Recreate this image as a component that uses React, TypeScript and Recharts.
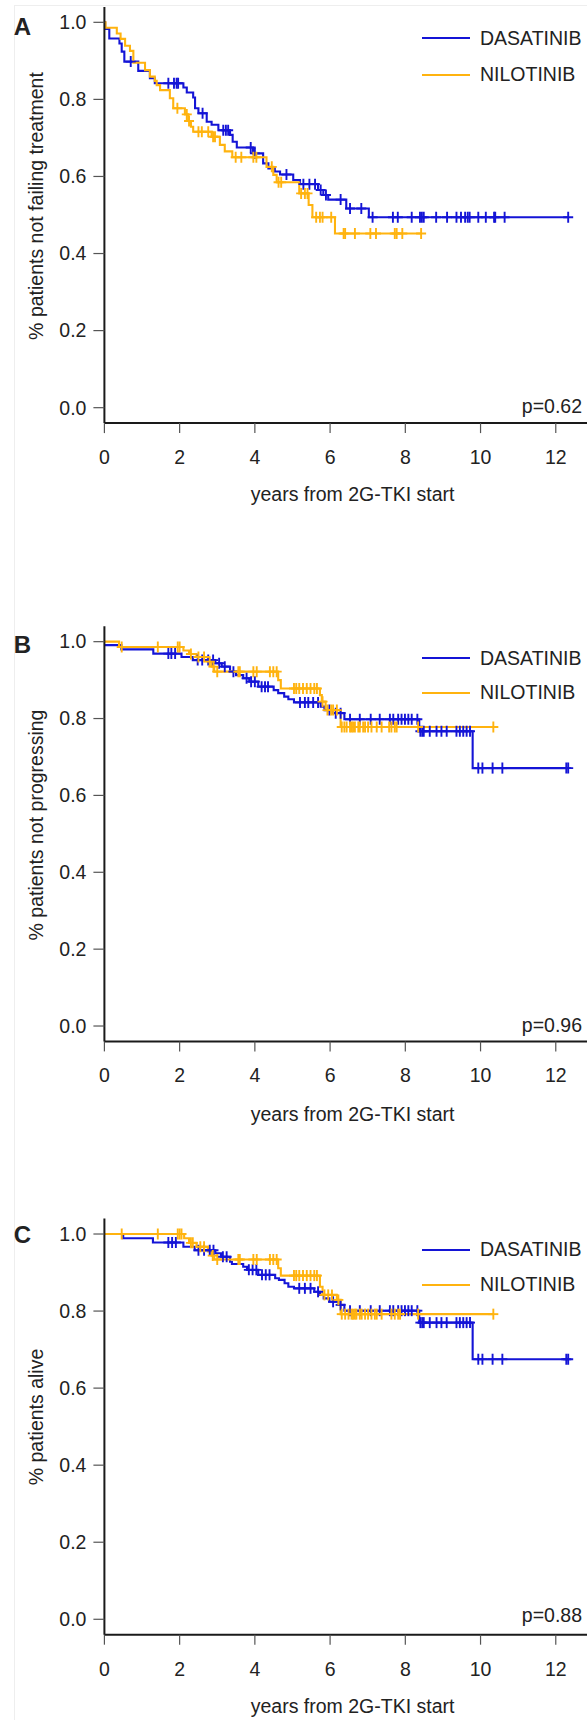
import React from "react";
import { ComposedChart, Line, Scatter, XAxis, YAxis } from "recharts";

const yearTicks = [0, 2, 4, 6, 8, 10, 12];
const fractionTicks = [0, 0.2, 0.4, 0.6, 0.8, 1.0];
const armNames = ["DASATINIB", "NILOTINIB"];
const armColors = ["#1414d6", "#ffb30f"];
const panelLetters = ["A", "B", "C"];
const yTitles = ["% patients not failing treatment", "% patients not progressing", "% patients alive"];
const xTitle = "years from 2G-TKI start";
const pValues = ["p=0.62", "p=0.96", "p=0.88"];

// A: treatment failure  [years, fraction]
const dasFailSteps = [
  [0, 1.0], [0.02, 0.983], [0.13, 0.958], [0.4, 0.945], [0.46, 0.924], [0.53, 0.898], [0.9, 0.874],
  [1.21, 0.855], [1.34, 0.842], [2.1, 0.831], [2.19, 0.818], [2.36, 0.805], [2.41, 0.777], [2.5, 0.764],
  [2.72, 0.742], [2.85, 0.734], [3.03, 0.72], [3.34, 0.708], [3.41, 0.69], [3.52, 0.675], [3.95, 0.66],
  [4.22, 0.634], [4.36, 0.621], [4.53, 0.613], [4.67, 0.605], [5.02, 0.591], [5.2, 0.58], [5.68, 0.565],
  [5.82, 0.552], [5.95, 0.54], [6.43, 0.517], [7.03, 0.494], [12.33, 0.494],
];
const dasFailCensored = [
  0.7, 1.7, 1.85, 1.92, 1.96, 2.61, 3.16, 3.23, 3.29, 3.89, 4.0, 4.84, 5.29, 5.45, 5.6, 5.75, 5.89, 6.28,
  6.53, 6.83, 7.13, 7.67, 7.8, 8.17, 8.39, 8.44, 8.49, 8.82, 9.11, 9.36, 9.48, 9.59, 9.66, 9.71, 9.94,
  10.14, 10.36, 10.39, 10.64, 12.33,
];
const nilFailSteps = [
  [0, 1.0], [0.03, 0.986], [0.33, 0.971], [0.43, 0.957], [0.55, 0.939], [0.68, 0.926], [0.77, 0.895],
  [1.08, 0.876], [1.21, 0.859], [1.34, 0.848], [1.39, 0.837], [1.48, 0.824], [1.74, 0.803], [1.83, 0.777],
  [2.14, 0.761], [2.23, 0.744], [2.3, 0.729], [2.36, 0.716], [2.85, 0.703], [3.07, 0.682], [3.2, 0.665],
  [3.4, 0.65], [4.31, 0.625], [4.49, 0.604], [4.58, 0.585], [5.18, 0.556], [5.43, 0.526], [5.53, 0.494],
  [6.13, 0.452], [8.42, 0.452],
];
const nilFailCensored = [
  1.94, 2.19, 2.25, 2.5, 2.59, 2.76, 2.89, 2.94, 3.49, 3.64, 3.96, 4.04, 4.45, 4.63, 4.7, 5.23, 5.33, 5.4,
  5.63, 5.73, 5.8, 6.03, 6.36, 6.4, 6.66, 7.07, 7.22, 7.72, 7.77, 7.92, 8.42,
];

// B: progression
const dasProgSteps = [
  [0, 0.991], [0.45, 0.98], [1.3, 0.969], [2.05, 0.96], [2.35, 0.952], [2.95, 0.944], [3.12, 0.935],
  [3.34, 0.922], [3.5, 0.913], [3.69, 0.905], [3.85, 0.896], [4.09, 0.883], [4.5, 0.874], [4.62, 0.866],
  [4.78, 0.857], [4.89, 0.85], [5.04, 0.842], [5.75, 0.831], [5.85, 0.822], [6.05, 0.814], [6.38, 0.798],
  [8.37, 0.767], [9.79, 0.671], [12.33, 0.671],
];
const dasProgCensored = [
  1.7, 1.78, 1.88, 2.48, 2.6, 2.76, 2.89, 3.05, 3.2, 3.43, 3.78, 3.9, 4.0, 4.18, 4.27, 4.35, 5.2, 5.33,
  5.42, 5.55, 5.68, 5.98, 6.15, 6.28, 6.53, 6.79, 7.08, 7.32, 7.59, 7.68, 7.81, 7.9, 7.99, 8.08, 8.17,
  8.32, 8.4, 8.45, 8.49, 8.65, 8.83, 8.96, 9.1, 9.36, 9.45, 9.54, 9.63, 9.72, 9.94, 10.05, 10.32, 10.58,
  12.28, 12.33,
];
const nilProgSteps = [
  [0, 1.0], [0.39, 0.986], [2.1, 0.977], [2.25, 0.968], [2.45, 0.96], [2.75, 0.948], [2.85, 0.935],
  [2.92, 0.922], [4.62, 0.9], [4.69, 0.878], [5.73, 0.861], [5.78, 0.844], [5.88, 0.822], [6.28, 0.778],
  [10.34, 0.778],
];
const nilProgCensored = [
  0.46, 1.42, 1.95, 2.0, 2.3, 2.5, 2.65, 2.8, 2.9, 3.0, 3.56, 3.6, 3.96, 4.05, 4.4, 4.49, 4.58, 5.04, 5.1,
  5.18, 5.28, 5.38, 5.48, 5.58, 5.65, 5.8, 5.93, 6.03, 6.08, 6.18, 6.31, 6.38, 6.44, 6.53, 6.57, 6.61,
  6.66, 6.75, 6.79, 6.88, 6.93, 7.01, 7.1, 7.24, 7.37, 7.57, 7.63, 7.72, 7.77, 8.34, 10.34,
];

// C: overall survival
const dasSurvSteps = [
  [0, 1.0], [0.5, 0.989], [1.29, 0.978], [2.1, 0.967], [2.4, 0.958], [2.95, 0.95], [3.1, 0.941],
  [3.34, 0.928], [3.39, 0.922], [3.69, 0.915], [3.79, 0.907], [4.09, 0.894], [4.54, 0.885], [4.64, 0.881],
  [4.79, 0.872], [4.89, 0.863], [5.04, 0.859], [5.58, 0.85], [5.73, 0.842], [5.83, 0.833], [5.98, 0.824],
  [6.23, 0.816], [6.38, 0.801], [8.37, 0.77], [9.79, 0.675], [12.33, 0.675],
];
const dasSurvCensored = [
  1.7, 1.8, 1.9, 2.5, 2.65, 2.8, 2.9, 3.15, 3.25, 3.84, 3.94, 4.04, 4.19, 4.29, 4.39, 5.18, 5.33, 5.48,
  5.68, 6.08, 6.28, 6.53, 6.79, 7.08, 7.32, 7.59, 7.68, 7.81, 7.9, 7.99, 8.08, 8.17, 8.32, 8.4, 8.45,
  8.49, 8.65, 8.83, 8.96, 9.1, 9.36, 9.45, 9.54, 9.63, 9.72, 9.94, 10.05, 10.32, 10.58, 12.28, 12.33,
];
const nilSurvSteps = [
  [0, 1.0], [2.12, 0.989], [2.25, 0.977], [2.45, 0.967], [2.75, 0.955], [2.85, 0.944], [2.92, 0.934],
  [4.62, 0.911], [4.69, 0.892], [5.73, 0.863], [5.8, 0.842], [6.18, 0.829], [6.28, 0.792], [10.34, 0.792],
];
const nilSurvCensored = [
  0.46, 1.42, 1.95, 2.0, 2.05, 2.3, 2.35, 2.55, 2.65, 2.88, 3.0, 3.56, 3.6, 3.96, 4.05, 4.4, 4.49, 4.58,
  5.04, 5.1, 5.18, 5.28, 5.38, 5.48, 5.58, 5.65, 5.85, 5.95, 6.05, 6.22, 6.31, 6.4, 6.49, 6.57, 6.61,
  6.66, 6.7, 6.79, 6.84, 6.93, 7.01, 7.1, 7.19, 7.24, 7.37, 7.63, 7.72, 7.81, 7.86, 8.34, 10.34,
];

const FONT = '"Liberation Sans", Arial, Helvetica, sans-serif';
const FS = 19.5;
const W = 587;
const PLOT_LEFT = 104.4;
const X_MAX = 12.83;
const X_AXIS_H = 84;
const INK = "#222";

const stepPts = (rows: number[][]) => rows.map(([t, s]) => ({ t, s }));

// censor marks sit on the curve: look up the step level at each time
const censorPts = (rows: number[][], times: number[]) =>
  times.map((t) => {
    let s = rows[0][1];
    for (const [rt, rs] of rows) if (rt <= t) s = rs;
    return { t, s };
  });

function Plus(props: any) {
  const { cx, cy, color } = props;
  if (cx == null || cy == null) return null;
  return (
    <g stroke={color} strokeWidth={1.9}>
      <line x1={cx} y1={cy - 5.5} x2={cx} y2={cy + 5.5} />
      <line x1={cx - 5} y1={cy} x2={cx + 5} y2={cy} />
    </g>
  );
}

function XTick({ x, y, payload }: any) {
  return (
    <text x={x} y={y + 24} dy="0.35em" textAnchor="middle" fontSize={FS} fontFamily={FONT} fill={INK}>
      {payload.value}
    </text>
  );
}

function YTick({ x, y, payload }: any) {
  return (
    <text x={x} y={y} dy="0.35em" textAnchor="end" fontSize={FS} fontFamily={FONT} fill={INK}>
      {Number(payload.value).toFixed(1)}
    </text>
  );
}

function Txt({ x, y, anchor = "start", size = FS, bold = false, children }: any) {
  const shift = anchor === "middle" ? "-50%" : anchor === "end" ? "-100%" : "0";
  return (
    <div
      style={{
        position: "absolute",
        left: x,
        top: y - size / 2,
        lineHeight: `${size}px`,
        fontSize: size,
        fontWeight: bold ? "bold" : "normal",
        fontFamily: FONT,
        color: INK,
        whiteSpace: "nowrap",
        transform: `translateX(${shift})`,
      }}
    >
      {children}
    </div>
  );
}

function KMPanel({ top, plotTop, plotH, das, dasCens, nil, nilCens }: any) {
  const height = plotTop + plotH + X_AXIS_H;
  return (
    <div style={{ position: "absolute", left: 0, top, width: W, height }}>
      <ComposedChart width={W} height={height} margin={{ top: plotTop, right: 0, bottom: 0, left: 0 }}>
        <XAxis
          type="number"
          dataKey="t"
          domain={[0, X_MAX]}
          ticks={yearTicks}
          interval={0}
          allowDataOverflow
          height={X_AXIS_H}
          tickSize={10}
          tickMargin={0}
          axisLine={{ stroke: "#1a1a1a", strokeWidth: 2 }}
          tickLine={{ stroke: "#555", strokeWidth: 1.2 }}
          tick={<XTick />}
        />
        <YAxis
          type="number"
          domain={[-0.04, 1.04]}
          ticks={fractionTicks}
          interval={0}
          allowDataOverflow
          width={PLOT_LEFT}
          tickSize={11}
          tickMargin={7}
          axisLine={{ stroke: "#1a1a1a", strokeWidth: 2 }}
          tickLine={{ stroke: "#555", strokeWidth: 1.2 }}
          tick={<YTick />}
        />
        <Line
          data={stepPts(das)}
          dataKey="s"
          type="stepAfter"
          stroke={armColors[0]}
          strokeWidth={2.1}
          dot={false}
          activeDot={false}
          isAnimationActive={false}
        />
        <Scatter
          data={censorPts(das, dasCens)}
          dataKey="s"
          shape={(p: any) => <Plus {...p} color={armColors[0]} />}
          isAnimationActive={false}
        />
        <Line
          data={stepPts(nil)}
          dataKey="s"
          type="stepAfter"
          stroke={armColors[1]}
          strokeWidth={2.1}
          dot={false}
          activeDot={false}
          isAnimationActive={false}
        />
        <Scatter
          data={censorPts(nil, nilCens)}
          dataKey="s"
          shape={(p: any) => <Plus {...p} color={armColors[1]} />}
          isAnimationActive={false}
        />
      </ComposedChart>
    </div>
  );
}

function LegendBox({ y1, y2 }: { y1: number; y2: number }) {
  return (
    <>
      {[y1, y2].map((y, i) => (
        <React.Fragment key={armNames[i]}>
          <div style={{ position: "absolute", left: 422, top: y - 1, width: 48, height: 2, background: armColors[i] }} />
          <Txt x={480} y={y}>{armNames[i]}</Txt>
        </React.Fragment>
      ))}
    </>
  );
}

export default function App() {
  const panels = [
    { top: 0, plotTop: 6.9, plotH: 416.2, das: dasFailSteps, dasCens: dasFailCensored, nil: nilFailSteps, nilCens: nilFailCensored, letterY: 26.7, yTitleY: 206, pY: 406.7, xTitleY: 495, leg: [38.3, 75] },
    { top: 560, plotTop: 66.3, plotH: 415.1, das: dasProgSteps, dasCens: dasProgCensored, nil: nilProgSteps, nilCens: nilProgCensored, letterY: 645, yTitleY: 825, pY: 1026, xTitleY: 1114.4, leg: [658.3, 692.7] },
    { top: 1150, plotTop: 68.6, plotH: 416.1, das: dasSurvSteps, dasCens: dasSurvCensored, nil: nilSurvSteps, nilCens: nilSurvCensored, letterY: 1235, yTitleY: 1417, pY: 1615.7, xTitleY: 1706.7, leg: [1250, 1285] },
  ];
  return (
    <div style={{ position: "absolute", left: 0, top: 0, width: W, height: 1720, background: "#fff", overflow: "hidden" }}>
      <div style={{ position: "absolute", left: 14, top: 5, right: 0, bottom: 0, borderLeft: "1px solid #eeeeee", borderTop: "1px solid #eeeeee" }} />
      {panels.map((p, i) => (
        <React.Fragment key={panelLetters[i]}>
          <KMPanel top={p.top} plotTop={p.plotTop} plotH={p.plotH} das={p.das} dasCens={p.dasCens} nil={p.nil} nilCens={p.nilCens} />
          <Txt x={22.5} y={p.letterY} anchor="middle" size={24} bold>{panelLetters[i]}</Txt>
          <div
            style={{
              position: "absolute",
              left: 37.4,
              top: p.yTitleY,
              fontSize: FS,
              lineHeight: `${FS}px`,
              fontFamily: FONT,
              color: INK,
              whiteSpace: "nowrap",
              transform: "translate(-50%, -50%) rotate(-90deg)",
            }}
          >
            {yTitles[i]}
          </div>
          <Txt x={352.6} y={p.xTitleY} anchor="middle">{xTitle}</Txt>
          <Txt x={582} y={p.pY} anchor="end">{pValues[i]}</Txt>
          <LegendBox y1={p.leg[0]} y2={p.leg[1]} />
        </React.Fragment>
      ))}
    </div>
  );
}
